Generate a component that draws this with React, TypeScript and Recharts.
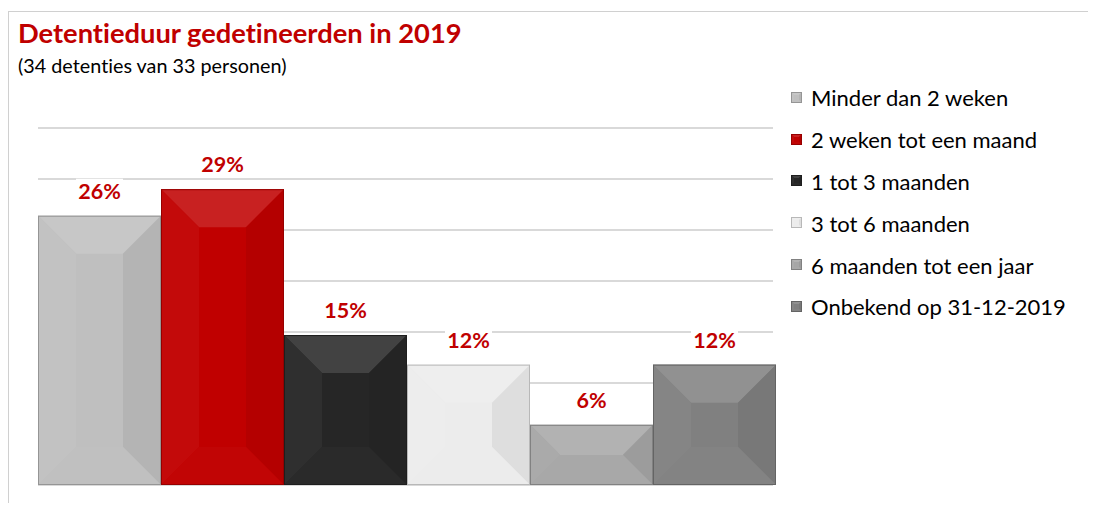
import React from "react";
import { BarChart, Bar, XAxis, YAxis, CartesianGrid, LabelList } from "recharts";

const SERIES = [
  "Minder dan 2 weken",
  "2 weken tot een maand",
  "1 tot 3 maanden",
  "3 tot 6 maanden",
  "6 maanden tot een jaar",
  "Onbekend op 31-12-2019",
];
const VALUES = [26.4, 29.0, 14.7, 11.8, 5.9, 11.8];
const COLORS = ["#bfbfbf", "#c00000", "#262626", "#ececec", "#a6a6a6", "#808080"];
const CATEGORY = ["2019"];
const Y_TICKS = [0, 5, 10, 15, 20, 25, 30, 35];
const TITLE = "Detentieduur gedetineerden in 2019";
const SUBTITLE = "(34 detenties van 33 personen)";

const row: Record<string, string | number> = { cat: CATEGORY[0] };
SERIES.forEach((s, i) => {
  row["s" + i] = VALUES[i];
});
const DATA = [row];

function shade(hex: string, amt: number): string {
  const n = parseInt(hex.slice(1), 16);
  let r = (n >> 16) & 255, g = (n >> 8) & 255, b = n & 255;
  const f = (c: number) =>
    Math.max(0, Math.min(255, Math.round(amt >= 0 ? c + (255 - c) * amt : c * (1 + amt))));
  r = f(r); g = f(g); b = f(b);
  return "#" + ((1 << 24) + (r << 16) + (g << 8) + b).toString(16).slice(1);
}

function BevelRect({ x, y, w, h, color, maxBevel }: any) {
  if (!(w > 0) || !(h > 0)) return null;
  const b = Math.min(maxBevel, h / 2, w / 2);
  const x2 = x + w, y2 = y + h;
  const p = (pts: number[][]) => pts.map((q) => q.join(",")).join(" ");
  return (
    <g>
      <rect x={x} y={y} width={w} height={h} fill={color} />
      <polygon points={p([[x, y], [x2, y], [x2 - b, y + b], [x + b, y + b]])} fill={shade(color, 0.13)} />
      <polygon points={p([[x, y], [x + b, y + b], [x + b, y2 - b], [x, y2]])} fill={shade(color, 0.04)} />
      <polygon points={p([[x2, y], [x2, y2], [x2 - b, y2 - b], [x2 - b, y + b]])} fill={shade(color, -0.06)} />
      <polygon points={p([[x, y2], [x + b, y2 - b], [x2 - b, y2 - b], [x2, y2]])} fill={shade(color, 0.02)} />
      <rect x={x + 0.5} y={y + 0.5} width={w - 1} height={h - 1} fill="none" stroke={shade(color, -0.22)} strokeWidth={1} />
    </g>
  );
}

function makeShape(color: string) {
  return (props: any) => (
    <BevelRect x={props.x} y={props.y} w={props.width} h={props.height} color={color} maxBevel={38} />
  );
}

function ValueLabel(props: any) {
  const { x, y, width, value } = props;
  const txt = Math.round(value) + "%";
  const cx = x + width / 2;
  const tw = txt.length * 13 + 8;
  return (
    <g>
      <rect x={cx - tw / 2} y={y - 37} width={tw} height={25} fill="#ffffff" />
      <text
        x={cx}
        y={y - 17}
        textAnchor="middle"
        fontFamily="Lato, 'Open Sans', sans-serif"
        fontWeight={700}
        fontSize={21.5}
        fill="#c00000"
      >
        {txt}
      </text>
    </g>
  );
}

function LegendBox() {
  return (
    <div style={{ position: "absolute", left: 783, top: 69 }}>
      {SERIES.map((s, i) => (
        <div key={s} style={{ display: "flex", alignItems: "center", height: 41.8 }}>
          <svg width={12} height={12} style={{ marginRight: 8 }}>
            <BevelRect x={0} y={0} w={11} h={11} color={COLORS[i]} maxBevel={3} />
          </svg>
          <span
            style={{
              fontFamily: "Lato, sans-serif",
              fontSize: 22,
              color: "#000",
              whiteSpace: "nowrap",
              fontVariantLigatures: "none",
            }}
          >
            {s}
          </span>
        </div>
      ))}
    </div>
  );
}

export default function App() {
  return (
    <div style={{ position: "relative", width: 1088, height: 495, background: "#fff" }}>
      <div
        style={{
          position: "absolute",
          left: 0,
          top: 3,
          width: 1088,
          height: 492,
          borderTop: "1px solid #d0d0d0",
          borderLeft: "1px solid #d0d0d0",
          boxSizing: "border-box",
        }}
      />
      <div
        style={{
          position: "absolute",
          left: 10,
          top: 8,
          fontFamily: "Lato, sans-serif",
          fontWeight: 700,
          fontSize: 27.3,
          color: "#c00000",
          whiteSpace: "nowrap",
          fontVariantLigatures: "none",
        }}
      >
        {TITLE}
      </div>
      <div
        style={{
          position: "absolute",
          left: 10,
          top: 45,
          fontFamily: "Lato, sans-serif",
          fontSize: 19.8,
          color: "#000",
          whiteSpace: "nowrap",
          fontVariantLigatures: "none",
        }}
      >
        {SUBTITLE}
      </div>
      <div style={{ position: "absolute", left: 0, top: 0 }}>
        <BarChart
          width={1088}
          height={490}
          data={DATA}
          margin={{ top: 120, right: 323, bottom: 13, left: 30 }}
          barCategoryGap={0}
          barGap={0}
        >
          <CartesianGrid vertical={false} stroke="#d9d9d9" strokeWidth={2} />
          <XAxis dataKey="cat" hide />
          <YAxis hide domain={[0, 35]} ticks={Y_TICKS} />
          {SERIES.map((s, i) => (
            <Bar
              key={s}
              dataKey={"s" + i}
              name={s}
              fill={COLORS[i]}
              shape={makeShape(COLORS[i])}
              isAnimationActive={false}
            >
              <LabelList dataKey={"s" + i} content={ValueLabel} />
            </Bar>
          ))}
        </BarChart>
      </div>
      <LegendBox />
    </div>
  );
}
